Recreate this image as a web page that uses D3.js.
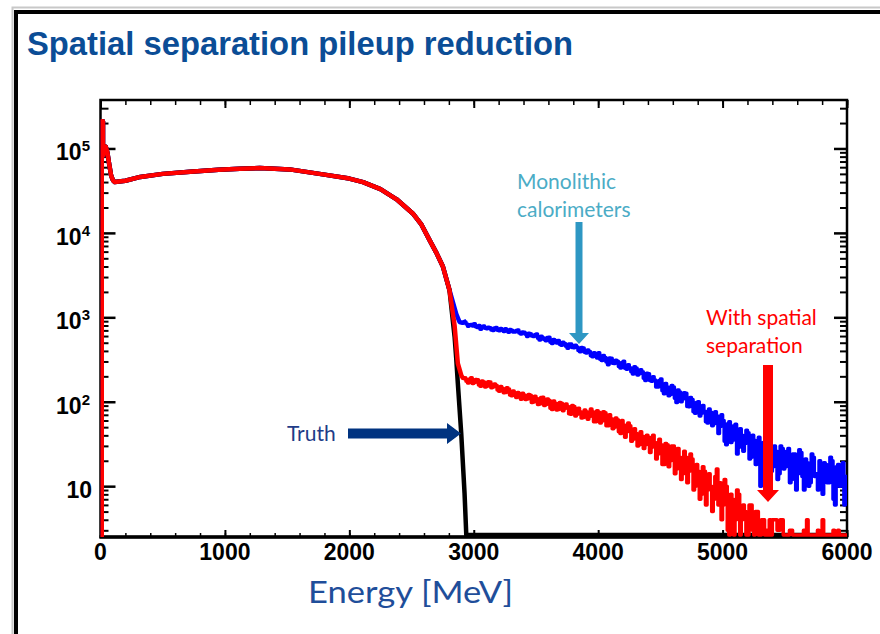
<!DOCTYPE html>
<meta charset="utf-8">
<style>
  html, body{
    margin:0;
    background:#fff;
    overflow:hidden;
  }
  svg{
    display:block;
  }
  svg text{
    font-family: "Liberation Sans", Arial, Helvetica, sans-serif;
  }
  .title{
    font-size:34px;
    font-weight:bold;
    fill:#0b4d96;
  }
  .tickLabel{
    font-size:23px;
    font-weight:bold;
    fill:#000;
  }
  .note{
    font-family: Lato, "Open Sans", sans-serif !important;
    font-size:21px;
  }
  .hist{
    fill:none;
    stroke-linejoin:round;
    stroke-linecap:square;
  }
  .tick line{
    stroke:#000;
  }
</style>
<body>
<div id="chart"></div>
<script src="https://d3js.org/d3.v7.min.js"></script>
<script>

// energy axis ticks [MeV] and log axis decades
var xTicks = [0, 1000, 2000, 3000, 4000, 5000, 6000];
var xTickLabels = ["0", "1000", "2000", "3000", "4000", "5000", "6000"];
var yTicks = [10, 100, 1000, 10000, 100000];
var yTickExp = ["", "2", "3", "4", "5"];

// common part of the spectrum (all three curves coincide here)
var bodyEnergy = [10, 10, 20, 20, 30, 42, 55, 70, 85, 100, 115, 200, 320, 500, 720, 950, 1120, 1280, 1520, 1800, 2000, 2110, 2250, 2380, 2510, 2580, 2645, 2700, 2752, 2805];
var bodyCounts = [0, 210000, 210000, 82000, 98000, 105000, 90000, 65000, 48000, 42000, 40000, 41500, 46000, 50000, 53000, 56000, 57500, 58500, 56500, 49000, 44000, 40000, 33000, 25000, 17000, 12500, 8200, 5800, 4000, 2100];

// edge of the spectrum, per curve
var monoEdgeEnergy = [2805, 2859, 2886, 2910];
var monoEdgeCounts = [2100, 1100, 880, 860];
var spatialEdgeEnergy = [2805, 2846, 2872, 2900, 2912];
var spatialEdgeCounts = [2050, 800, 285, 205, 192];
var truthEdgeEnergy = [2805, 2846, 2859, 2872, 2899, 2926, 2940, 6000];
var truthEdgeCounts = [1900, 590, 330, 166, 43, 8.3, 0, 0];

// pileup tails, 12.5 MeV bins starting at 2925 MeV
var tailStart = 2925, binWidth = 12.5;
var monoTail = [
  880, 835, 785, 815, 820, 790, 840, 775, 760, 800, 720, 770, 790, 740, 732, 765, 752, 710, 698, 745,
  760, 705, 695, 735, 710, 680, 733, 690, 665, 715, 705, 670, 668, 700, 710, 650, 634, 672, 665, 628,
  594, 648, 640, 600, 592, 620, 634, 565, 540, 598, 572, 545, 528, 575, 580, 505, 488, 545, 530, 495,
  530, 480, 466, 508, 490, 455, 430, 482, 483, 440, 435, 468, 445, 405, 392, 440, 434, 385, 377, 410,
  395, 350, 340, 380, 360, 330, 380, 318, 308, 352, 334, 296, 275, 330, 327, 285, 283, 310, 302, 262,
  251, 292, 301, 250, 243, 275, 252, 226, 213, 260, 251, 208, 215, 240, 226, 190, 179, 218, 214, 178,
  175, 198, 181, 150, 150, 178, 186, 135, 124, 165, 150, 118, 122, 156, 150, 110, 98, 138, 130, 100,
  108, 128, 126, 88, 87, 112, 106, 76, 73, 98, 100, 68, 73, 90, 77, 58, 56, 82, 75, 52,
  55, 76, 68, 42, 51, 70, 60, 34, 31, 55, 58, 33, 35, 52, 54, 24, 29, 48, 40, 26,
  32, 46, 43, 21, 22, 40, 35, 18, 25, 38, 10, 30, 33, 16, 20, 36, 33, 15, 17, 30,
  26, 12, 14, 30, 28, 16, 17, 26, 28, 11, 12, 24, 24, 9, 14, 27, 25, 13, 9, 21,
  19, 10, 11, 24, 22, 13, 14, 9, 20, 12, 8, 19, 18, 11, 11, 22, 20, 7, 6, 17,
  18, 10, 11, 19, 6, 13
];
var spatialTail = [
  190, 175, 167, 186, 193, 165, 169, 184, 182, 158, 153, 176, 171, 150, 153, 172, 171, 146, 150, 162,
  157, 138, 133, 152, 144, 128, 129, 146, 142, 120, 118, 134, 125, 112, 129, 115, 107, 126, 120, 106,
  108, 122, 119, 98, 99, 116, 109, 93, 94, 112, 113, 90, 93, 108, 104, 84, 81, 102, 96, 80,
  81, 98, 96, 78, 83, 94, 88, 72, 71, 90, 88, 68, 71, 84, 76, 64, 65, 80, 76, 62,
  67, 82, 76, 58, 58, 78, 75, 56, 59, 76, 74, 52, 52, 70, 63, 48, 50, 64, 61, 44,
  42, 60, 53, 38, 44, 56, 52, 34, 36, 48, 42, 30, 31, 44, 39, 28, 31, 40, 38, 25,
  29, 40, 33, 21, 24, 36, 31, 18, 18, 32, 31, 17, 20, 30, 30, 14, 16, 28, 22, 12,
  14, 26, 22, 11, 15, 24, 21, 9, 10, 18, 15, 7, 8, 17, 15, 6, 9, 14, 10, 5,
  7, 13, 16, 6, 11, 4, 6, 12, 10, 3, 1, 8, 7, 2, 4, 9, 8, 1, 4, 6,
  5, 2, 1, 6, 6, 3, 2, 5, 5, 1, 1, 4, 4, 2, 3, 1, 4, 2, 4, 4,
  4, 3, 3, 4, 4, 1, 1, 0, 0, 3, 3, 0, 0, 1, 1, 0, 0, 0, 3, 0,
  4, 0, 0, 1, 1, 0, 0, 3, 0, 0, 4, 0, 0, 1, 1, 0, 0, 3, 0, 0,
  3, 0, 0, 1, 1, 0
];

var W = 880, H = 634;
var plot = {left:100.5, right:847, top:100, bottom:537};

var svg = d3.select('#chart').append('svg').attr('width', W).attr('height', H);

// slide frame (left and top edges are visible)
svg.append('path').attr('d', 'M12.5,' + H + 'V7.5H' + W)
  .attr('fill', 'none').attr('stroke', '#c8c8c8').attr('stroke-width', 2);
svg.append('path').attr('d', 'M16,' + H + 'V12H' + W)
  .attr('fill', 'none').attr('stroke', '#000').attr('stroke-width', 4);

svg.append('text').attr('class', 'title').attr('x', 27).attr('y', 55)
  .attr('textLength', 546).attr('lengthAdjust', 'spacingAndGlyphs')
  .text('Spatial separation pileup reduction');

var x = d3.scaleLinear().domain([0, 6000]).range([plot.left, plot.right]);
var y = d3.scaleLog().domain([2.5, 375000]).range([plot.bottom, plot.top]);
var floorY = plot.bottom - 2;
function yc(v){ return v > 0 ? Math.min(y(v), floorY) : floorY; }

// ticks
var xMinor = d3.range(0, 6001, 200);
var yMinor = [];
yTicks.concat([1]).forEach(function(d){
  for(var m = 2; m < 10; m++){
    var v = d * m;
    if(v >= 2.5 && v <= 375000) yMinor.push(v);
  }
});

function ticks(axis, vals, size, width, tr){
  var g = svg.append('g').attr('transform', tr)
    .call(axis.tickValues(vals).tickSize(-size).tickFormat(''));
  g.select('.domain').remove();
  g.selectAll('.tick line').attr('stroke-width', width);
}
ticks(d3.axisBottom(x), xMinor, 4, 1.5, 'translate(0,' + plot.bottom + ')');
ticks(d3.axisBottom(x), xTicks, 7, 2, 'translate(0,' + plot.bottom + ')');
ticks(d3.axisTop(x), xMinor, 5, 1.5, 'translate(0,' + plot.top + ')');
ticks(d3.axisTop(x), xTicks, 8, 2, 'translate(0,' + plot.top + ')');
ticks(d3.axisLeft(y), yMinor, 8, 2, 'translate(' + plot.left + ',0)');
ticks(d3.axisLeft(y), yTicks, 15, 2.5, 'translate(' + plot.left + ',0)');
ticks(d3.axisRight(y), yMinor, 7, 2, 'translate(' + plot.right + ',0)');
ticks(d3.axisRight(y), yTicks, 13, 2.5, 'translate(' + plot.right + ',0)');

svg.append('rect').attr('x', plot.left).attr('y', plot.top)
  .attr('width', plot.right - plot.left).attr('height', plot.bottom - plot.top)
  .attr('fill', 'none').attr('stroke', '#000').attr('stroke-width', 2.5);
svg.append('line').attr('x1', plot.left - 1).attr('x2', plot.right + 1)
  .attr('y1', plot.bottom).attr('y2', plot.bottom)
  .attr('stroke', '#000').attr('stroke-width', 3.5);

// tick labels
svg.selectAll('.xlab').data(xTicks).enter().append('text')
  .attr('class', 'tickLabel').attr('text-anchor', 'middle')
  .attr('x', function(d){ return x(d); }).attr('y', 560)
  .text(function(d, i){ return xTickLabels[i]; });

var ylab = svg.selectAll('.ylab').data(yTicks).enter().append('text')
  .attr('class', 'tickLabel').attr('text-anchor', 'end')
  .attr('x', function(d, i){ return yTickExp[i] ? 90 : 92; })
  .attr('y', function(d){ return y(d) + 12; });
ylab.append('tspan').text('10');
ylab.append('tspan').attr('dy', -9).style('font-size', '15px')
  .text(function(d, i){ return yTickExp[i]; });

svg.append('text').attr('class', 'note').attr('x', 308).attr('y', 603)
  .style('font-size', '31px').attr('fill', '#1f4e9a')
  .attr('textLength', 205).attr('lengthAdjust', 'spacingAndGlyphs')
  .text('Energy [MeV]');

// histograms
svg.append('clipPath').attr('id', 'plotClip').append('rect')
  .attr('x', plot.left).attr('y', plot.top)
  .attr('width', plot.right - plot.left).attr('height', plot.bottom - plot.top);

var data = svg.append('g').attr('clip-path', 'url(#plotClip)');

var smooth = d3.line().x(function(d){ return x(d[0]); }).y(function(d){ return yc(d[1]); });
var steps = d3.line().curve(d3.curveStepAfter)
  .x(function(d){ return x(d[0]); }).y(function(d){ return yc(d[1]); });

function pairs(es, cs){ return es.map(function(e, i){ return [e, cs[i]]; }); }
function tailPairs(cs){
  var p = cs.map(function(c, i){ return [tailStart + i * binWidth, c]; });
  p.push([6000, cs[cs.length - 1]]);
  return p;
}

function drawSeries(edgeE, edgeC, tail, color){
  var front = pairs(bodyEnergy, bodyCounts).concat(pairs(edgeE, edgeC).slice(1));
  if(tail) front.push([tailStart, tail[0]]);
  data.append('path').attr('class', 'hist').attr('d', smooth(front))
    .attr('stroke', color).attr('stroke-width', 4.5).attr('stroke-linecap', 'round');
  if(tail){
    data.append('path').attr('class', 'hist').attr('d', steps(tailPairs(tail)))
      .attr('stroke', color).attr('stroke-width', 3.5);
  }
}

drawSeries(monoEdgeEnergy, monoEdgeCounts, monoTail, '#0000ff');
drawSeries(truthEdgeEnergy, truthEdgeCounts, null, '#000');
drawSeries(spatialEdgeEnergy, spatialEdgeCounts, spatialTail, '#ff0000');

// annotations
svg.append('text').attr('class', 'note').attr('fill', '#4bacc6').attr('x', 517).attr('y', 189).text('Monolithic');
svg.append('text').attr('class', 'note').attr('fill', '#4bacc6').attr('x', 517).attr('y', 217).text('calorimeters');
svg.append('polygon').attr('fill', '#2e97c3')
  .attr('points', '575.5,222 582.5,222 582.5,333 589,333 579,344 569,333 575.5,333');

svg.append('text').attr('class', 'note').attr('fill', '#ff0000').attr('x', 706).attr('y', 325).text('With spatial');
svg.append('text').attr('class', 'note').attr('fill', '#ff0000').attr('x', 706).attr('y', 353).text('separation');
svg.append('polygon').attr('fill', '#ff0000')
  .attr('points', '763,365 773,365 773,490 779,490 768,502 757,490 763,490');

svg.append('text').attr('class', 'note').attr('fill', '#1f3c88').attr('x', 287).attr('y', 441).text('Truth');
svg.append('polygon').attr('fill', '#003380')
  .attr('points', '348,428.5 447,428.5 447,423 461,433.5 447,444 447,438.5 348,438.5');

</script>
</body>
</html>
